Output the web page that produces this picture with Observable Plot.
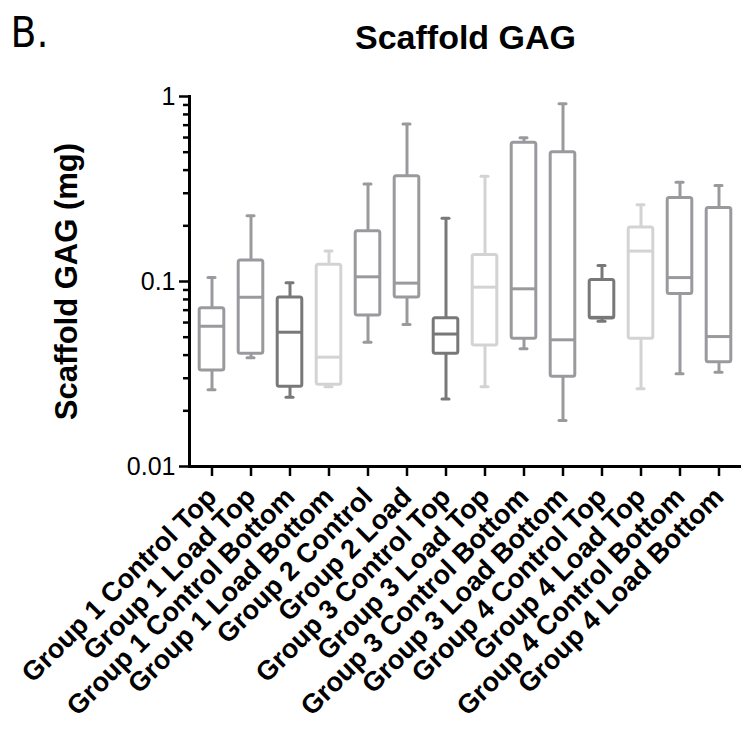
<!DOCTYPE html>
<html>
<head>
<meta charset="utf-8">
<script src="https://cdn.jsdelivr.net/npm/d3@7"></script>
<script src="https://cdn.jsdelivr.net/npm/@observablehq/plot@0.6"></script>
<style>
  html, body { margin: 0; padding: 0; background: #fff; }
  #chart { width: 747px; height: 731px; }
</style>
</head>
<body>
<div id="chart"></div>
<script>
const categories = [
  "Group 1 Control Top", "Group 1 Load Top", "Group 1 Control Bottom", "Group 1 Load Bottom",
  "Group 2 Control", "Group 2 Load",
  "Group 3 Control Top", "Group 3 Load Top", "Group 3 Control Bottom", "Group 3 Load Bottom",
  "Group 4 Control Top", "Group 4 Load Top", "Group 4 Control Bottom", "Group 4 Load Bottom"
];
const shades = ["mid", "mid", "dark", "light", "mid", "mid", "dark", "light", "mid", "mid", "dark", "light", "mid", "mid"];
const whiskerLow  = [0.026, 0.0387, 0.0237, 0.027, 0.047, 0.0586, 0.0232, 0.027, 0.0433, 0.0177, 0.061, 0.0263, 0.0317, 0.0323];
const quartile1   = [0.033, 0.0407, 0.027, 0.0277, 0.0655, 0.082, 0.0407, 0.0451, 0.049, 0.0306, 0.063, 0.049, 0.0857, 0.0366];
const medians     = [0.0573, 0.0822, 0.0532, 0.039, 0.106, 0.098, 0.052, 0.0932, 0.0913, 0.0484, 0.064, 0.146, 0.105, 0.0504];
const quartile3   = [0.0717, 0.130, 0.082, 0.123, 0.187, 0.371, 0.0633, 0.139, 0.562, 0.50, 0.102, 0.196, 0.283, 0.25];
const whiskerHigh = [0.105, 0.227, 0.0984, 0.146, 0.337, 0.711, 0.22, 0.371, 0.598, 0.913, 0.122, 0.26, 0.344, 0.33];
const majorTicks = [0.01, 0.1, 1];
const minorTicks = [0.02, 0.03, 0.04, 0.05, 0.06, 0.07, 0.08, 0.09, 0.2, 0.3, 0.4, 0.5, 0.6, 0.7, 0.8, 0.9];
const shadeNames = ["mid", "dark", "light"];
const shadeColors = ["#9a9a9e", "#787878", "#d3d3d3"];

const rows = categories.map((cat, i) => ({
  cat, shade: shades[i], lo: whiskerLow[i], q1: quartile1[i], med: medians[i], q3: quartile3[i], hi: whiskerHigh[i]
}));

const font = "'Liberation Sans', Arial, Helvetica, sans-serif";

const chart = Plot.plot({
  width: 747,
  height: 731,
  marginTop: 96,
  marginBottom: 265,
  marginLeft: 189,
  marginRight: 6,
  style: { fontFamily: font, background: "#fff", color: "#000" },
  x: { domain: categories, padding: 0, label: null },
  y: { type: "log", domain: [0.01, 1], label: null },
  color: { domain: shadeNames, range: shadeColors },
  marks: [
    Plot.ruleX(rows, { x: "cat", y1: "lo", y2: "hi", stroke: "shade", strokeWidth: 3 }),
    Plot.barY(rows, { x: "cat", y1: "q1", y2: "q3", fill: "#fff", stroke: "shade", strokeWidth: 3, insetLeft: 7.2, insetRight: 7.2, rx: 2, strokeLinejoin: "round" }),
    Plot.tickY(rows, { x: "cat", y: "med", stroke: "shade", strokeWidth: 3, insetLeft: 7.2, insetRight: 7.2 }),
    Plot.tickY(rows, { x: "cat", y: "lo", stroke: "shade", strokeWidth: 3, insetLeft: 16, insetRight: 16, strokeLinecap: "round" }),
    Plot.tickY(rows, { x: "cat", y: "hi", stroke: "shade", strokeWidth: 3, insetLeft: 16, insetRight: 16, strokeLinecap: "round" }),
    Plot.axisY({ ticks: majorTicks, tickFormat: d => String(d), tickSize: 10, tickPadding: 4, fontSize: 25, strokeWidth: 2.5, label: null }),
    Plot.axisY({ ticks: minorTicks, tickFormat: () => "", tickSize: 6, strokeWidth: 2.5, label: null }),
    Plot.axisX({ tickRotate: -45, tickSize: 10, tickPadding: 16, fontSize: 27, fontWeight: "bold", strokeWidth: 2.5, label: null }),
    Plot.ruleY([0.01], { strokeWidth: 3 }),
    Plot.frame({ anchor: "left", strokeWidth: 3 }),
    Plot.text(["Scaffold GAG (mg)"], { text: d => d, frameAnchor: "left", textAnchor: "middle", rotate: -90, dx: -122, fontSize: 31, fontWeight: "bold" }),
    Plot.text(["Scaffold GAG"], { text: d => d, frameAnchor: "top", dy: -72, fontSize: 34, fontWeight: "bold" }),
    Plot.text(["B."], { text: d => d, frameAnchor: "top-left", dx: -179, dy: -79, textAnchor: "start", fontSize: 42, fontFamily: "'Liberation Sans Narrow', 'DejaVu Sans Condensed', sans-serif" })
  ]
});
document.getElementById("chart").appendChild(chart);
</script>
</body>
</html>
